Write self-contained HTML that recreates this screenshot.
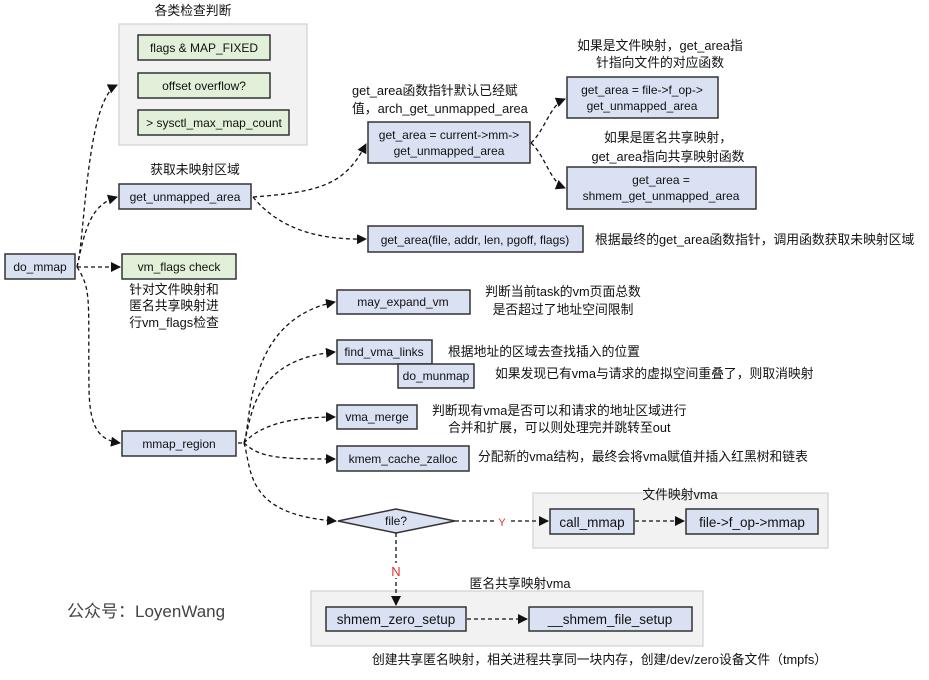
<!DOCTYPE html>
<html><head><meta charset="utf-8"><style>
html,body{margin:0;padding:0;background:#fff;}
svg text{font-family:"Liberation Sans","Noto Sans CJK SC",sans-serif;font-size:12px;fill:#111;}
svg text.n{font-size:12.8px;}
.b{fill:#dae1f3;stroke:#333;stroke-width:1.5;}
.g{fill:#e2efd9;stroke:#333;stroke-width:1.5;}
.p{fill:#f2f2f2;stroke:#d0d0d0;stroke-width:1.2;}
.c{fill:none;stroke:#111;stroke-width:1.3;stroke-dasharray:4,3;}
</style></head><body>
<svg width="929" height="675" viewBox="0 0 929 675" xmlns="http://www.w3.org/2000/svg">
<defs><marker id="a" markerWidth="10" markerHeight="10" refX="9" refY="5" orient="auto" markerUnits="userSpaceOnUse"><path d="M0,0 L10,5 L0,10 z" fill="#111"/></marker></defs>

<rect class="p" x="119" y="24" width="188" height="121"/>
<rect class="p" x="533" y="493" width="295" height="55"/>
<rect class="p" x="311" y="591" width="392" height="55"/>

<text class="n" x="193" y="15" text-anchor="middle">各类检查判断</text>
<rect class="g" x="138" y="35" width="132" height="25"/><text x="204" y="52" text-anchor="middle">flags &amp; MAP_FIXED</text>
<rect class="g" x="138" y="73" width="132" height="25"/><text x="204" y="90" text-anchor="middle">offset overflow?</text>
<rect class="g" x="138" y="110" width="151" height="25"/><text x="214" y="127" text-anchor="middle">&gt; sysctl_max_map_count</text>

<text class="n" x="195" y="174" text-anchor="middle">获取未映射区域</text>
<rect class="b" x="119" y="184" width="132" height="25"/><text x="185" y="201" text-anchor="middle">get_unmapped_area</text>

<rect class="b" x="5" y="254" width="70" height="25"/><text x="40" y="271" text-anchor="middle">do_mmap</text>
<rect class="g" x="122" y="254" width="114" height="25"/><text x="179" y="271" text-anchor="middle">vm_flags check</text>
<text class="n" x="174" y="294" text-anchor="middle">针对文件映射和</text>
<text class="n" x="174" y="310" text-anchor="middle">匿名共享映射进</text>
<text class="n" x="174" y="327" text-anchor="middle">行vm_flags检查</text>

<rect class="b" x="122" y="431" width="114" height="25"/><text x="179" y="448" text-anchor="middle">mmap_region</text>

<text class="n" x="352" y="95">get_area函数指针默认已经赋</text>
<text class="n" x="352" y="113">值，arch_get_unmapped_area</text>
<rect class="b" x="368" y="122" width="162" height="41"/>
<text x="449" y="139" text-anchor="middle">get_area = current-&gt;mm-&gt;</text>
<text x="449" y="155" text-anchor="middle">get_unmapped_area</text>

<text class="n" x="660" y="50" text-anchor="middle">如果是文件映射，get_area指</text>
<text class="n" x="660" y="67" text-anchor="middle">针指向文件的对应函数</text>
<rect class="b" x="567" y="77" width="151" height="41"/>
<text x="642" y="94" text-anchor="middle">get_area = file-&gt;f_op-&gt;</text>
<text x="642" y="110" text-anchor="middle">get_unmapped_area</text>

<text class="n" x="668" y="142" text-anchor="middle">如果是匿名共享映射，</text>
<text class="n" x="668" y="161" text-anchor="middle">get_area指向共享映射函数</text>
<rect class="b" x="567" y="167" width="189" height="42"/>
<text x="661" y="184" text-anchor="middle">get_area =</text>
<text x="661" y="200" text-anchor="middle">shmem_get_unmapped_area</text>

<rect class="b" x="368" y="226" width="215" height="26"/><text x="475" y="244" text-anchor="middle">get_area(file, addr, len, pgoff, flags)</text>
<text class="n" x="595" y="244">根据最终的get_area函数指针，调用函数获取未映射区域</text>

<rect class="b" x="337" y="290" width="133" height="24"/><text x="403" y="306" text-anchor="middle">may_expand_vm</text>
<text class="n" x="563" y="296" text-anchor="middle">判断当前task的vm页面总数</text>
<text class="n" x="563" y="314" text-anchor="middle">是否超过了地址空间限制</text>

<rect class="b" x="337" y="340" width="95" height="24"/><text x="384" y="356" text-anchor="middle">find_vma_links</text>
<text class="n" x="448" y="356">根据地址的区域去查找插入的位置</text>
<rect class="b" x="398" y="364" width="76" height="24"/><text x="436" y="380" text-anchor="middle">do_munmap</text>
<text class="n" x="495" y="378">如果发现已有vma与请求的虚拟空间重叠了，则取消映射</text>

<rect class="b" x="337" y="405" width="80" height="24"/><text x="377" y="421" text-anchor="middle">vma_merge</text>
<text class="n" x="432" y="415">判断现有vma是否可以和请求的地址区域进行</text>
<text class="n" x="448" y="432">合并和扩展，可以则处理完并跳转至out</text>

<rect class="b" x="337" y="446" width="132" height="25"/><text x="403" y="463" text-anchor="middle">kmem_cache_zalloc</text>
<text class="n" x="478" y="461">分配新的vma结构，最终会将vma赋值并插入红黑树和链表</text>

<polygon class="b" points="338,521 396,509 455,521 396,533"/><text x="396" y="525" text-anchor="middle">file?</text>

<text class="n" x="680" y="499" text-anchor="middle">文件映射vma</text>
<rect class="b" x="550" y="509" width="84" height="25"/><text x="592" y="527" text-anchor="middle" style="font-size:13.5px">call_mmap</text>
<rect class="b" x="686" y="509" width="132" height="25"/><text x="752" y="527" text-anchor="middle" style="font-size:13.5px">file-&gt;f_op-&gt;mmap</text>

<text class="n" x="520" y="588" text-anchor="middle">匿名共享映射vma</text>
<rect class="b" x="326" y="607" width="140" height="24"/><text x="396" y="624" text-anchor="middle" style="font-size:13.5px">shmem_zero_setup</text>
<rect class="b" x="529" y="607" width="163" height="24"/><text x="610" y="624" text-anchor="middle" style="font-size:13.5px">__shmem_file_setup</text>

<text class="n" x="372" y="664">创建共享匿名映射，相关进程共享同一块内存，创建/dev/zero设备文件（tmpfs）</text>
<text x="67" y="617" style="font-size:17px;fill:#444">公众号：LoyenWang</text>

<path class="c" marker-end="url(#a)" d="M77,267 C85,240 86,100 117,85"/>
<path class="c" marker-end="url(#a)" d="M77,267 C85,230 90,205 117,197"/>
<path class="c" marker-end="url(#a)" d="M77,267 L120,267"/>
<path class="c" marker-end="url(#a)" d="M77,267 C92,290 88,300 89,390 C90,430 100,440 120,443"/>
<path class="c" marker-end="url(#a)" d="M253,197 C320,192 345,185 366,144"/>
<path class="c" marker-end="url(#a)" d="M253,197 C280,230 320,240 366,239"/>
<path class="c" marker-end="url(#a)" d="M531,143 C545,130 550,105 565,99"/>
<path class="c" marker-end="url(#a)" d="M531,143 C545,155 550,182 565,188"/>
<path class="c" marker-end="url(#a)" d="M238,443 L244,443 C252,420 245,320 335,302"/>
<path class="c" marker-end="url(#a)" d="M244,443 C252,420 250,360 335,352"/>
<path class="c" marker-end="url(#a)" d="M244,443 C260,425 290,417 335,417"/>
<path class="c" marker-end="url(#a)" d="M244,443 C260,458 280,459 335,459"/>
<path class="c" marker-end="url(#a)" d="M244,443 C252,470 245,515 336,521"/>
<path class="c" marker-end="url(#a)" d="M455,521 L548,521"/>
<path class="c" marker-end="url(#a)" d="M635,521 L684,521"/>
<path class="c" marker-end="url(#a)" d="M396,533 L396,605"/>
<path class="c" marker-end="url(#a)" d="M467,619 L527,619"/>
<rect x="496" y="514" width="12" height="14" fill="#fff"/><text x="502" y="526" text-anchor="middle" style="fill:#e03030;font-size:11px">Y</text>
<rect x="390" y="563" width="12" height="15" fill="#fff"/><text x="396" y="576" text-anchor="middle" style="fill:#e03030;font-size:13px">N</text>
</svg>
</body></html>
